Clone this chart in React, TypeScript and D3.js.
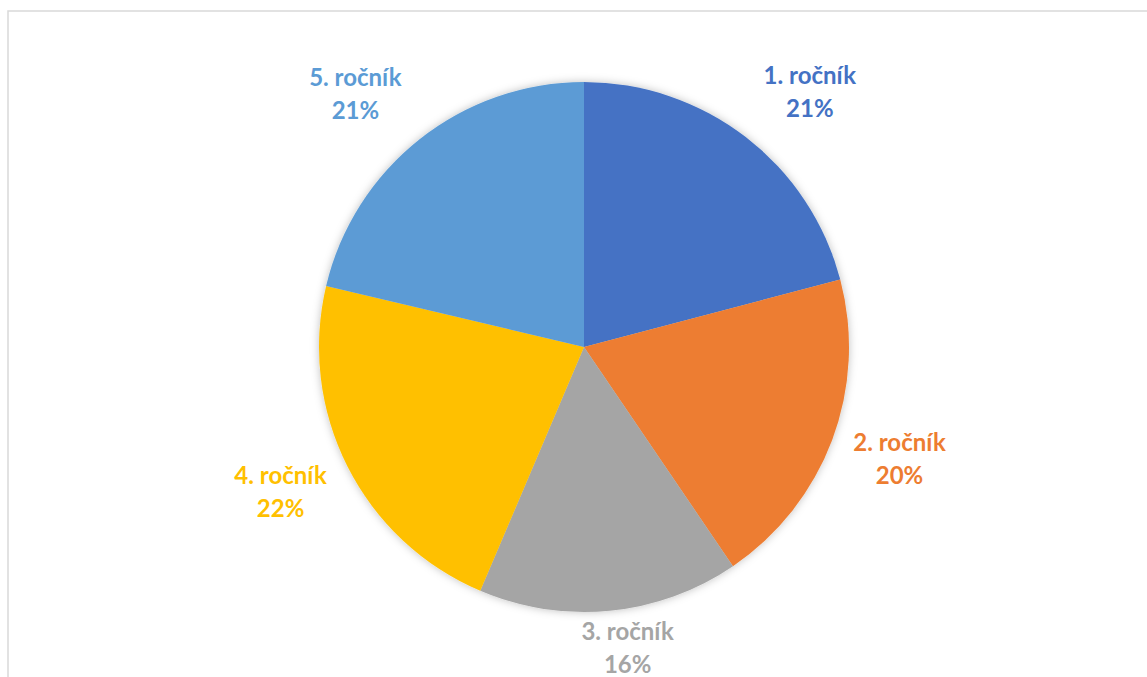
import React, { useEffect, useRef } from "react";
import * as d3 from "d3";

const categories = ["1. ročník", "2. ročník", "3. ročník", "4. ročník", "5. ročník"];
const shares = [20.9, 19.6, 15.9, 22.3, 21.3];
const percentLabels = ["21%", "20%", "16%", "22%", "21%"];
const colors = ["#4472C4", "#ED7D31", "#A5A5A5", "#FFC000", "#5B9BD5"];

const W = 1147;
const H = 677;

const App = () => {
  const svgRef = useRef<SVGSVGElement>(null);

  useEffect(() => {
    document.body.style.margin = "0";
    const svg = d3.select(svgRef.current);
    svg.selectAll("*").remove(); // Clear previous render

    const cx = 584;
    const cy = 347;
    const radius = 265;

    // chart area border
    svg
      .append("rect")
      .attr("x", 8)
      .attr("y", 11)
      .attr("width", W + 20)
      .attr("height", H + 20)
      .attr("fill", "white")
      .attr("stroke", "#d9d9d9")
      .attr("stroke-width", 1.5);

    const defs = svg.append("defs");
    const shadow = defs
      .append("filter")
      .attr("id", "pieShadow")
      .attr("x", "-20%")
      .attr("y", "-20%")
      .attr("width", "140%")
      .attr("height", "140%");
    shadow
      .append("feDropShadow")
      .attr("dx", 0)
      .attr("dy", 0)
      .attr("stdDeviation", 4)
      .attr("flood-color", "#000")
      .attr("flood-opacity", 0.25);

    const data = categories.map((c, i) => ({ name: c, value: shares[i], pct: percentLabels[i], color: colors[i] }));

    const pie = d3
      .pie<any>()
      .sort(null)
      .value((d) => d.value);
    const arcs = pie(data);

    const arc = d3.arc<any>().innerRadius(0).outerRadius(radius);

    const g = svg.append("g").attr("transform", `translate(${cx},${cy})`);

    g.append("g")
      .attr("filter", "url(#pieShadow)")
      .selectAll("path")
      .data(arcs)
      .join("path")
      .attr("d", arc)
      .attr("fill", (d) => d.data.color);

    // outside-end labels, box pushed away from the edge point
    const gap = 10;
    const clamp = (v: number) => Math.max(-1, Math.min(1, v));

    arcs.forEach((d) => {
      const a = (d.startAngle + d.endAngle) / 2;
      const s = Math.sin(a);
      const c = Math.cos(a);
      const px = s * (radius + gap);
      const py = -c * (radius + gap);
      const bx = px + 58 * clamp(s * 3);
      const by = c > 0 ? py - 37 * clamp(c * 1.3) : py - 27 * clamp(c * 1.7);
      const t = g
        .append("text")
        .attr("text-anchor", "middle")
        .attr("font-family", "Lato, 'Open Sans', sans-serif")
        .attr("font-weight", "bold")
        .attr("font-size", 24)
        .attr("fill", d.data.color);
      t.append("tspan").attr("x", bx).attr("y", by - 8).text(d.data.name);
      t.append("tspan").attr("x", bx).attr("y", by + 25).text(d.data.pct);
    });
  }, []);

  return (
    <div style={{ position: "absolute", left: 0, top: 0 }}>
      <svg ref={svgRef} width={W} height={H} style={{ display: "block" }}></svg>
    </div>
  );
};

export default App;
